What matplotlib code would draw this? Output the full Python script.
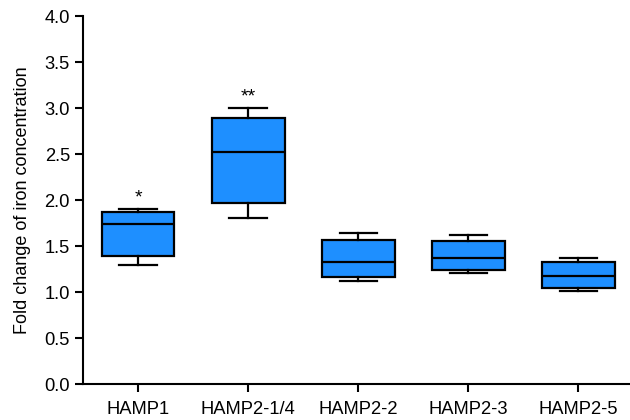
import matplotlib
matplotlib.use('Agg')
import matplotlib.pyplot as plt

plt.rcParams['font.family'] = ['Liberation Sans', 'DejaVu Sans']

# box statistics
groups = ['HAMP1', 'HAMP2-1/4', 'HAMP2-2', 'HAMP2-3', 'HAMP2-5']
whislo = [1.29, 1.80, 1.115, 1.21, 1.01]
q1 = [1.39, 1.97, 1.16, 1.24, 1.045]
med = [1.74, 2.52, 1.33, 1.365, 1.175]
q3 = [1.87, 2.89, 1.565, 1.56, 1.325]
whishi = [1.90, 3.00, 1.64, 1.62, 1.375]
stars = ['*', '**', '', '', '']

stats = []
for i in range(len(groups)):
    stats.append(dict(label=groups[i], whislo=whislo[i], q1=q1[i], med=med[i],
                      q3=q3[i], whishi=whishi[i], fliers=[]))

fig = plt.figure(figsize=(6.3, 4.2), dpi=100)
ax = fig.add_axes([0.132, 0.0857, 0.868, 0.876])

pos = list(range(1, len(groups) + 1))
lw = 1.6
bp = ax.bxp(stats, positions=pos, widths=0.66, patch_artist=True, showfliers=False,
            boxprops=dict(facecolor='#1E8FFF', edgecolor='black', linewidth=lw),
            medianprops=dict(color='black', linewidth=lw),
            whiskerprops=dict(color='black', linewidth=lw),
            capprops=dict(color='black', linewidth=lw),
            capwidths=0.34)

for i, s in enumerate(stars):
    if s:
        ax.text(pos[i], whishi[i] + 0.03, s, ha='center', va='bottom', fontsize=14)

ax.set_xlim(0.5, 5.47)
ax.set_ylim(0, 4.0)
ax.set_yticks([0, 0.5, 1.0, 1.5, 2.0, 2.5, 3.0, 3.5, 4.0])
ax.set_yticklabels(['0.0', '0.5', '1.0', '1.5', '2.0', '2.5', '3.0', '3.5', '4.0'])
ax.set_xticks(pos)
ax.set_xticklabels(groups)
ax.set_ylabel('Fold change of iron concentration', fontsize=13, labelpad=10)
ax.tick_params(axis='both', labelsize=13.2, width=1.5, length=6, direction='out')
ax.tick_params(axis='x', pad=6)
ax.spines['top'].set_visible(False)
ax.spines['right'].set_visible(False)
ax.spines['left'].set_linewidth(1.5)
ax.spines['bottom'].set_linewidth(1.5)

plt.savefig('out.png', dpi=100)
